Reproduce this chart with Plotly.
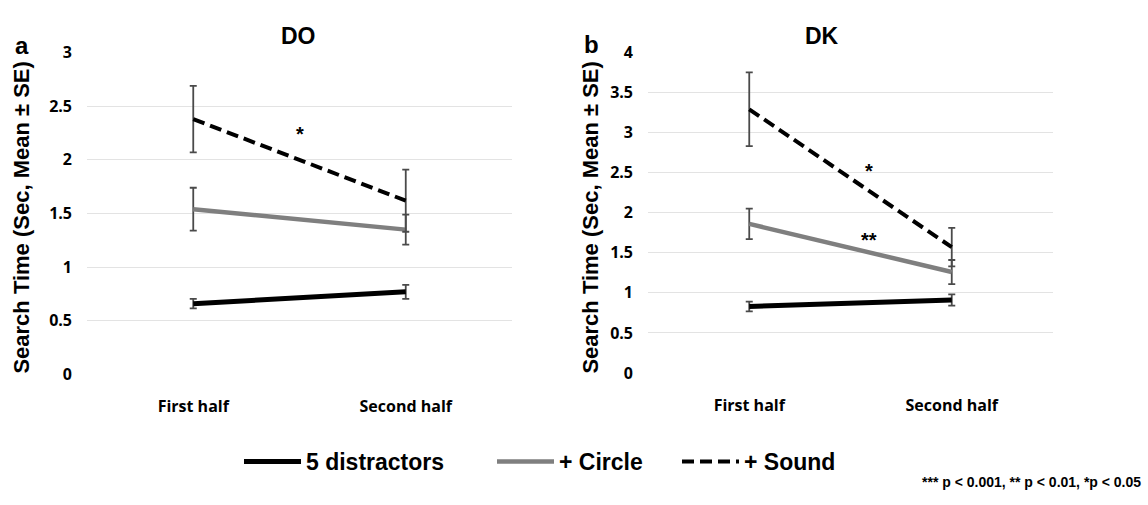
import plotly.graph_objects as go

categories = ["First half", "Second half"]
cat_x = [0, 1]

# Panel a (DO)
do_5d = [0.66, 0.77]
do_5d_se = [0.045, 0.065]
do_circle = [1.54, 1.35]
do_circle_se = [0.20, 0.14]
do_sound = [2.38, 1.62]
do_sound_se = [0.31, 0.29]

# Panel b (DK)
dk_5d = [0.83, 0.91]
dk_5d_se = [0.06, 0.07]
dk_circle = [1.86, 1.26]
dk_circle_se = [0.19, 0.15]
dk_sound = [3.29, 1.57]
dk_sound_se = [0.46, 0.24]

series_names = ["5 distractors", "+ Circle", "+ Sound"]

do_ticks = [0, 0.5, 1, 1.5, 2, 2.5, 3]
dk_ticks = [0, 0.5, 1, 1.5, 2, 2.5, 3, 3.5, 4]

ERR = dict(type="data", color="#4a4a4a", thickness=1.8, width=3.5, visible=True)
styles = [
    dict(color="black", width=5),
    dict(color="#7f7f7f", width=4.5),
    dict(color="black", width=4, dash="12px,6px"),
]
legend_ids = ["legend", "legend2", "legend3"]

fig = go.Figure()

panels = [
    ("x", "y", [do_5d, do_circle, do_sound], [do_5d_se, do_circle_se, do_sound_se], True),
    ("x2", "y2", [dk_5d, dk_circle, dk_sound], [dk_5d_se, dk_circle_se, dk_sound_se], False),
]
for xa, ya, vals, ses, show in panels:
    for name, v, se, st, lg in zip(series_names, vals, ses, styles, legend_ids):
        fig.add_trace(go.Scatter(
            x=cat_x, y=v, mode="lines", name=name, line=st,
            error_y=dict(array=se, **ERR), xaxis=xa, yaxis=ya,
            showlegend=show, legendgroup=name, legend=lg,
        ))

tickfont = dict(family="Open Sans, sans-serif", size=16, color="black", weight="bold")
xcommon = dict(range=[-0.5, 1.5], tickmode="array", tickvals=cat_x, ticktext=categories,
               showgrid=False, zeroline=False, showline=False, ticks="", tickfont=tickfont,
               ticklabelstandoff=21, fixedrange=True)
ycommon = dict(showgrid=True, gridcolor="#e3e3e3", gridwidth=1, zeroline=False, showline=False,
               ticks="", tickfont=tickfont, ticklabelstandoff=14, fixedrange=True)

legfont = dict(family="Arial, Liberation Sans, sans-serif", size=23, color="black", weight="bold")
def leg(x):
    return dict(orientation="h", x=x/1148, y=1-471/505, xanchor="left", yanchor="middle",
                font=legfont, itemwidth=57, bgcolor="rgba(0,0,0,0)", borderwidth=0)

fig.update_layout(
    width=1148, height=505,
    margin=dict(l=0, r=0, t=0, b=0),
    paper_bgcolor="white", plot_bgcolor="white",
    xaxis=dict(domain=[87/1148, 512/1148], anchor="y", **xcommon),
    xaxis2=dict(domain=[648/1148, 1053/1148], anchor="y2", **xcommon),
    yaxis=dict(domain=[1-380/505, 1-43.5/505], range=[0, 3], tickvals=do_ticks,
               ticktext=[f"{t:g}" for t in do_ticks], anchor="x", **ycommon),
    yaxis2=dict(domain=[1-378.5/505, 1-43.3/505], range=[0, 4], tickvals=dk_ticks,
                ticktext=[f"{t:g}" for t in dk_ticks], anchor="x2", **ycommon),
    legend=leg(239),
    legend2=leg(492),
    legend3=leg(677),
    showlegend=True,
)

bold = dict(family="Arial, Liberation Sans, sans-serif", color="black", weight="bold")
ann = [
    dict(text="DO", x=298/1148, y=1-26/505, xref="paper", yref="paper", showarrow=False,
         font=dict(size=23, **bold), xanchor="center", yanchor="middle"),
    dict(text="DK", x=822/1148, y=1-26/505, xref="paper", yref="paper", showarrow=False,
         font=dict(size=23, **bold), xanchor="center", yanchor="middle"),
    dict(text="a", x=22/1148, y=1-36/505, xref="paper", yref="paper", showarrow=False,
         font=dict(size=24, **bold), xanchor="center", yanchor="middle"),
    dict(text="b", x=591/1148, y=1-35/505, xref="paper", yref="paper", showarrow=False,
         font=dict(size=24, **bold), xanchor="center", yanchor="middle"),
    dict(text="Search Time (Sec, Mean ± SE)", x=22/1148, y=1-216/505, xref="paper", yref="paper",
         showarrow=False, textangle=-90, font=dict(size=22, **bold), xanchor="center", yanchor="middle"),
    dict(text="Search Time (Sec, Mean ± SE)", x=591/1148, y=1-216/505, xref="paper", yref="paper",
         showarrow=False, textangle=-90, font=dict(size=22, **bold), xanchor="center", yanchor="middle"),
    dict(text="*", x=0.5, y=2.24, xref="x", yref="y", showarrow=False,
         font=dict(size=20, **bold), xanchor="center", yanchor="middle"),
    dict(text="*", x=0.59, y=2.52, xref="x2", yref="y2", showarrow=False,
         font=dict(size=20, **bold), xanchor="center", yanchor="middle"),
    dict(text="**", x=0.59, y=1.66, xref="x2", yref="y2", showarrow=False,
         font=dict(size=20, **bold), xanchor="center", yanchor="middle"),
    dict(text="*** p < 0.001, ** p < 0.01, *p < 0.05", x=1143/1148, y=1-492/505, xref="paper", yref="paper",
         showarrow=False, xanchor="right", yanchor="middle",
         font=dict(size=14, family="Liberation Sans Narrow, Arial Narrow, sans-serif", color="black", weight="bold")),
]
fig.update_layout(annotations=ann)

fig.write_html("out.html")
